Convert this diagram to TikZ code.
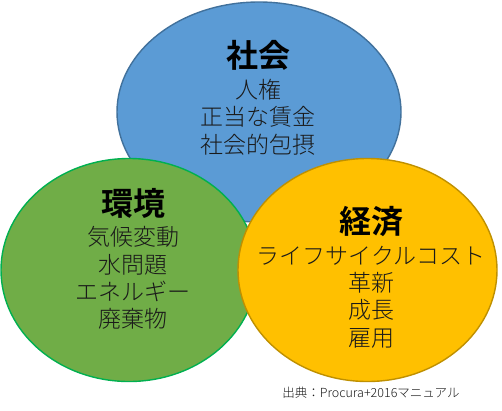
\documentclass[tikz,border=0pt]{standalone}
\usepackage{fontspec}
\setmainfont{Noto Sans CJK JP}[BoldFont={Noto Sans CJK JP Bold}]
\newfontfamily\lightcjk{Noto Sans CJK JP Light}
\usetikzlibrary{shapes.geometric}
\definecolor{socfill}{HTML}{5B9BD5}
\definecolor{socline}{HTML}{41719C}
\definecolor{envfill}{HTML}{70AD47}
\definecolor{envline}{HTML}{00B050}
\definecolor{ecofill}{HTML}{FFC000}
\definecolor{ecoline}{HTML}{BF9000}
\definecolor{bodytext}{HTML}{1A1A1A}
\tikzset{
  circ/.style={ellipse, inner sep=0pt, line width=1.4pt},
  head/.style={inner sep=0pt, font=\fontsize{32}{32}\selectfont\bfseries, text=black},
  body/.style={inner sep=0pt, align=center, font=\lightcjk\fontsize{23}{27.3}\selectfont, text=bodytext},
  note/.style={inner sep=0pt, font=\lightcjk\fontsize{12.5}{14}\selectfont, text=bodytext}
}
\begin{document}
\begin{tikzpicture}[x=1pt,y=-1pt]
\useasboundingbox (0,0) rectangle (502,410);
\node[circ, fill=socfill, draw=socline, minimum width=284pt, minimum height=220pt] (soc) at (259,112) {};
\node[circ, fill=envfill, draw=envline, minimum width=256pt, minimum height=223pt] (env) at (129,270) {};
\node[circ, fill=ecofill, draw=ecoline, minimum width=259pt, minimum height=223pt] (eco) at (367.5,270) {};
\node[head] (sochead) at (258,55) {社会};
\node[body] (socbody) at (258,117) {人権\\正当な賃金\\社会的包摂};
\node[head] (envhead) at (133,203) {環境};
\node[body] (envbody) at (133,278) {気候変動\\水問題\\エネルギー\\廃棄物};
\node[head] (ecohead) at (371,222) {経済};
\node[body] (ecobody) at (371,297) {ライフサイクルコスト\\革新\\成長\\雇用};
\node[note] (src) at (371,393) {出典：Procura+2016マニュアル};
\end{tikzpicture}
\end{document}
